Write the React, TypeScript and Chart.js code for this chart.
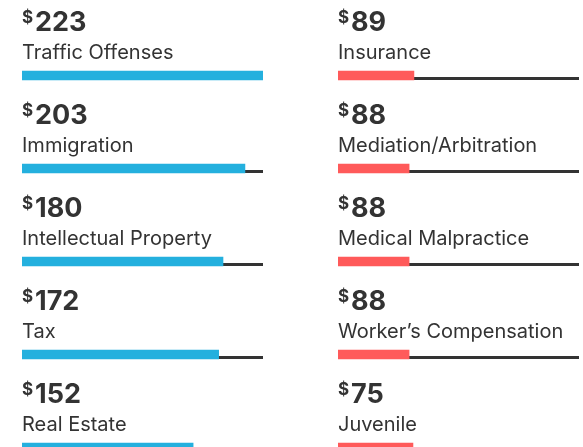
import React, { useEffect, useRef } from "react";
import { Chart, registerables } from "chart.js";

Chart.register(...registerables);

const leftCategories = ["Traffic Offenses", "Immigration", "Intellectual Property", "Tax", "Real Estate"];
const leftValues = [223, 203, 180, 172, 152];
const leftBars = [100, 92.5, 83.4, 81.6, 71.0];

const rightCategories = ["Insurance", "Mediation/Arbitration", "Medical Malpractice", "Worker\u2019s Compensation", "Juvenile"];
const rightValues = [89, 88, 88, 88, 75];
const rightBars = [31.5, 29.5, 29.5, 29.5, 31.1];

const TEXT = "#333333";
const TRACK = "#333333";
const FONT = "Inter, Roboto, sans-serif";

function makePlugin(values: number[]) {
  return {
    id: "labelsAndTrack",
    beforeDatasetsDraw(chart: any) {
      const { ctx, scales } = chart;
      const x0 = scales.x.getPixelForValue(0);
      const x1 = scales.x.getPixelForValue(100);
      ctx.save();
      ctx.fillStyle = TRACK;
      for (let i = 0; i < values.length; i++) {
        const yc = scales.y.getPixelForValue(i);
        ctx.fillRect(x0, yc + 4.5 - 3, x1 - x0, 3);
      }
      ctx.restore();
    },
    afterDatasetsDraw(chart: any) {
      const { ctx, scales } = chart;
      const labels = chart.data.labels as string[];
      const x0 = scales.x.getPixelForValue(0);
      ctx.save();
      ctx.fillStyle = TEXT;
      ctx.textAlign = "left";
      ctx.textBaseline = "alphabetic";
      for (let i = 0; i < values.length; i++) {
        const top = scales.y.getPixelForValue(i) - 4.5;
        ctx.font = `400 20px ${FONT}`;
        ctx.fillText(labels[i], x0, top - 12.5);
        ctx.font = `700 17px ${FONT}`;
        ctx.fillText("$", x0, top - 48.5);
        ctx.font = `700 27px ${FONT}`;
        ctx.fillText(String(values[i]), x0 + 13, top - 40);
      }
      ctx.restore();
    },
  };
}

function Column(props: {
  categories: string[];
  values: number[];
  bars: number[];
  color: string;
  left: number;
  width: number;
  padLeft: number;
  padRight: number;
}) {
  const ref = useRef<HTMLCanvasElement | null>(null);
  useEffect(() => {
    if (!ref.current) return;
    const chart = new Chart(ref.current, {
      type: "bar",
      data: {
        labels: props.categories,
        datasets: [
          {
            data: props.bars,
            backgroundColor: props.color,
            borderWidth: 0,
            barThickness: 9,
          },
        ],
      },
      options: {
        indexAxis: "y",
        responsive: false,
        maintainAspectRatio: false,
        animation: false,
        layout: { padding: { left: props.padLeft, right: props.padRight, top: 29, bottom: 6 } },
        plugins: { legend: { display: false }, tooltip: { enabled: false } },
        scales: {
          x: { display: false, min: 0, max: 100 },
          y: { display: false },
        },
      },
      plugins: [makePlugin(props.values)],
    });
    return () => chart.destroy();
  }, []);
  return (
    <canvas
      ref={ref}
      width={props.width}
      height={500}
      style={{ position: "absolute", left: props.left, top: 0, width: props.width, height: 500 }}
    />
  );
}

export default function App() {
  useEffect(() => {
    document.body.style.margin = "0";
    document.body.style.overflow = "hidden";
  }, []);
  return (
    <div
      style={{
        position: "fixed",
        left: 0,
        top: 0,
        width: 583,
        height: 447,
        overflow: "hidden",
        background: "#ffffff",
      }}
    >
      <Column
        categories={leftCategories}
        values={leftValues}
        bars={leftBars}
        color="#24b0de"
        left={0}
        width={291}
        padLeft={22}
        padRight={28}
      />
      <Column
        categories={rightCategories}
        values={rightValues}
        bars={rightBars}
        color="#ff5a5a"
        left={291}
        width={292}
        padLeft={47}
        padRight={4}
      />
    </div>
  );
}
